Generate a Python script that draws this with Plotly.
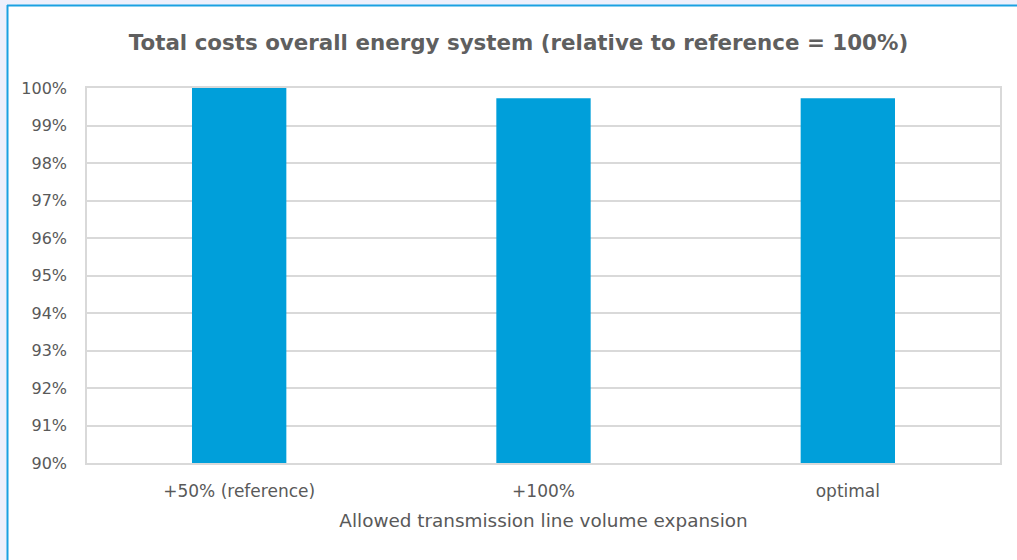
import plotly.graph_objects as go

categories = ["+50% (reference)", "+100%", "optimal"]
values = [100.0, 99.73, 99.73]
tick_vals = [90, 91, 92, 93, 94, 95, 96, 97, 98, 99, 100]
tick_text = [f"{v}%" for v in tick_vals]

W, H = 1017, 560
L, R, T, B = 87, 17, 88, 97
pw, ph = W - L - R, H - T - B

def px(x):
    return (x - L) / pw

def py(y):
    return (H - B - y) / ph

fig = go.Figure(go.Bar(
    x=categories, y=values, marker_color="#009FDA", marker_line_width=0,
    width=0.31, hoverinfo="skip"
))

font_fam = "'DejaVu Sans', sans-serif"
fig.update_layout(
    width=W, height=H,
    margin=dict(l=L, r=R, t=T, b=B),
    paper_bgcolor="white", plot_bgcolor="white",
    showlegend=False,
    title=dict(text="Total costs overall energy system (relative to reference = 100%)",
               x=518.5 / W, xanchor="center", y=1 - 43 / H, yanchor="middle",
               font=dict(family=font_fam, size=21.4, color="#5f5f5f", weight="bold")),
    font=dict(family=font_fam, color="#595959"),
    xaxis=dict(showgrid=False, showline=True, linecolor="#D9D9D9", linewidth=1.5, mirror=True,
               tickfont=dict(size=17, color="#595959"), ticks="", ticklabelstandoff=12,
               title=dict(text="Allowed transmission line volume expansion",
                          font=dict(size=18.4, color="#595959"), standoff=14)),
    yaxis=dict(range=[90, 100], tickvals=tick_vals, ticktext=tick_text,
               showgrid=True, gridcolor="#D9D9D9", gridwidth=1.5,
               showline=True, linecolor="#D9D9D9", linewidth=1.5, mirror=True,
               zeroline=False, ticks="", ticklabelstandoff=15,
               tickfont=dict(size=16, color="#595959")),
    bargap=0.69,
)

shapes = [
    dict(type="rect", xref="paper", yref="paper", x0=px(0), x1=px(7), y0=py(H), y1=py(0),
         fillcolor="#EEF0FC", line_width=0, layer="above"),
    dict(type="rect", xref="paper", yref="paper", x0=px(0), x1=px(W), y0=py(5), y1=py(0),
         fillcolor="#EEF0FC", line_width=0, layer="above"),
    dict(type="line", xref="paper", yref="paper", x0=px(7.5), x1=px(7.5), y0=py(H), y1=py(5),
         line=dict(color="#1BA1E2", width=2), layer="above"),
    dict(type="line", xref="paper", yref="paper", x0=px(7), x1=px(W), y0=py(5.5), y1=py(5.5),
         line=dict(color="#1BA1E2", width=2), layer="above"),
]
fig.update_layout(shapes=shapes)

fig.write_html("out.html")
